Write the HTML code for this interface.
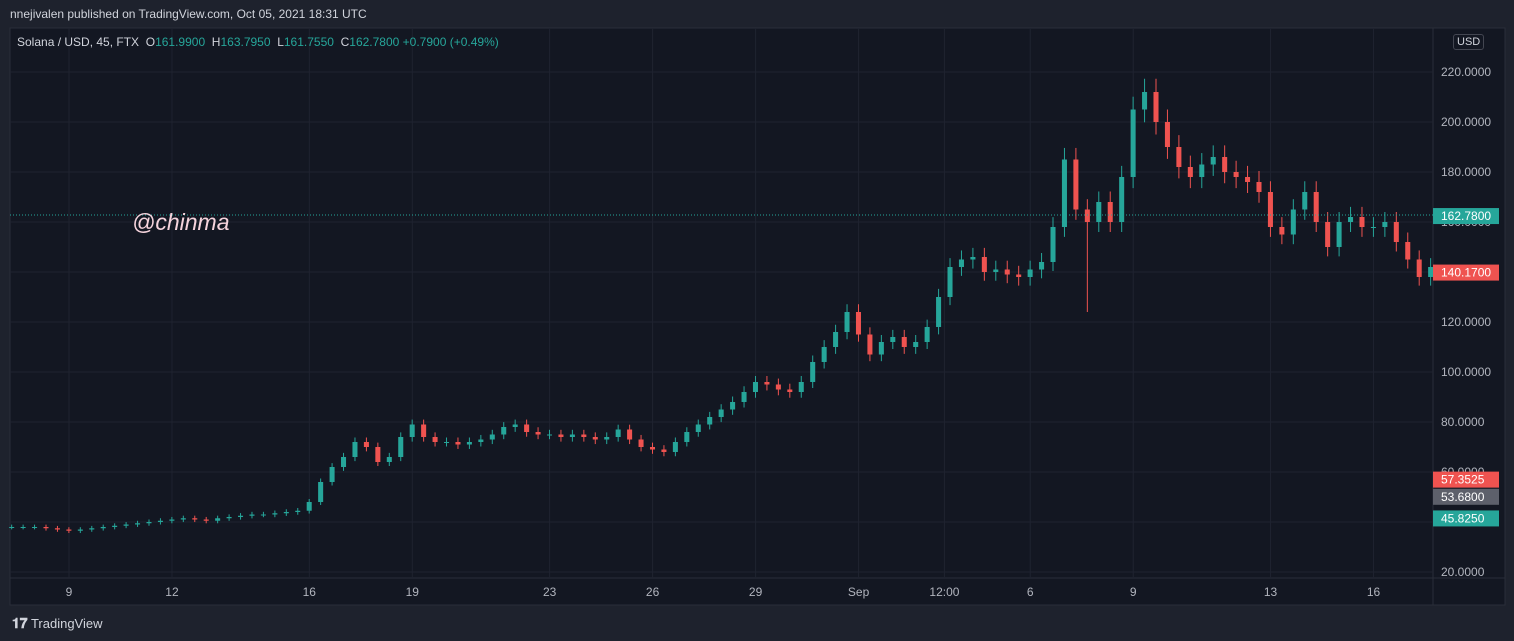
<!DOCTYPE html>
<html><head><meta charset="utf-8"><style>
body{margin:0;width:1514px;height:641px;background:#1e222d;font-family:"Liberation Sans",sans-serif;overflow:hidden;position:relative}
.t{position:absolute;white-space:nowrap}
</style></head><body>
<div class="t" style="left:10px;top:7px;font-size:12px;color:#d1d4dc">nnejivalen published on TradingView.com, Oct 05, 2021 18:31 UTC</div>
<svg id="c" width="1514" height="641" style="position:absolute;left:0;top:0"></svg>
<div class="t" style="left:17px;top:35px;font-size:12px;color:#d1d4dc">Solana / USD, 45, FTX&nbsp; <span style="color:#d1d4dc">O</span><span style="color:#26a69a">161.9900</span>&nbsp; H<span style="color:#26a69a">163.7950</span>&nbsp; L<span style="color:#26a69a">161.7550</span>&nbsp; C<span style="color:#26a69a">162.7800 +0.7900 (+0.49%)</span></div>
<div class="t" style="left:1453px;top:34px;font-size:11px;color:#d1d4dc;border:1px solid #434651;border-radius:3px;padding:1px 3px">USD</div>
<div class="t" style="left:132px;top:209px;font-size:23px;font-style:italic;color:#f5d3dc">@chinma</div>
<div class="t" style="left:12px;top:615px;font-size:13px;color:#d1d4dc"><b style="font-size:14px">𝟏𝟕</b> TradingView</div>
<script>
const closes=[38,38,38,37.5,37,36.5,37,37.5,38,38.5,39,39.5,40,40.5,41,41.5,41,40.5,41.5,42,42.5,43,43,43.5,44,44.5,48,56,62,66,72,70,64,66,74,79,74,72,72,71,72,73,75,78,79,76,75,75,74,75,74,73,74,77,73,70,69,68,72,76,79,82,85,88,92,96,95,93,92,96,104,110,116,124,115,107,112,114,110,112,118,130,142,145,146,140,141,139,138,141,144,158,185,165,160,168,160,178,205,212,200,190,182,178,183,186,180,178,176,172,158,155,165,172,160,150,160,162,158,158,160,152,145,138,142];
const spikeIdx=[94];
const spikeLow=[124];
const yTicks=[220,200,180,160,140,120,100,80,60,40,20];
const xLabels=["9","12","16","19","23","26","29","Sep","12:00","6","9","13","16"];
const xDays=[9,12,16,19,23,26,29,32,34.5,37,40,44,47];
const badgeValues=[162.78,140.17,57.3525,53.68,45.825];
const badgeLabels=["162.7800","140.1700","57.3525","53.6800","45.8250"];
const badgeColors=["#26a69a","#ef5350","#ef5350","#5d606b","#26a69a"];
const badgeShift=[1,1,1,9,11];
const NS="http://www.w3.org/2000/svg",svg=document.getElementById('c');
const L=10,R=1433,T=28,B=578;
const y=v=>72+(220-v)*2.5;
const x=d=>69+(d-9)*34.33;
function el(tag,a,p){const e=document.createElementNS(NS,tag);for(const k in a)e.setAttribute(k,a[k]);(p||svg).appendChild(e);return e;}
const bg=el('rect',{x:L,y:T,width:1495,height:577,fill:'#131722',stroke:'#2a2e39'});


el('line',{x1:R,y1:T,x2:R,y2:605,stroke:'#2a2e39'});
el('line',{x1:L,y1:B,x2:1505,y2:B,stroke:'#2a2e39'});
yTicks.forEach(v=>{
  const g=el('line',{x1:L,y1:y(v),x2:R,y2:y(v),stroke:'#1f2330'});
  
  
  const t=el('text',{x:1441,y:y(v)+4,fill:'#b2b5be','font-size':12,'font-family':'Liberation Sans'});
  t.textContent=v.toFixed(4);
  
  
});
xLabels.forEach((s,i)=>{
  const xx=x(xDays[i]);
  const g=el('line',{x1:xx,y1:T,x2:xx,y2:B,stroke:'#1f2330'});
  
  
  const t=el('text',{x:xx,y:596,fill:'#b2b5be','font-size':12,'text-anchor':'middle','font-family':'Liberation Sans'});
  t.textContent=s;
  
  
});
const step=1/3,w=34.33*step;
closes.forEach((c,i)=>{
  const o=i?closes[i-1]:c;
  const d=7.33+i*step;
  const cx=x(d);
  const up=c>=o,col=up?'#26a69a':'#ef5350';
  const hi=Math.max(o,c)*1.025,k=spikeIdx.indexOf(i),lo=k>=0?spikeLow[k]:Math.min(o,c)*0.975;
  const g=el('g',{});
  
  
  el('line',{x1:cx,y1:y(hi),x2:cx,y2:y(lo),stroke:col,'stroke-width':1},g);
  el('rect',{x:cx-w*0.22,y:y(Math.max(o,c)),width:w*0.44,height:Math.max(1,Math.abs(y(o)-y(c))),fill:col},g);
});
const pl=el('line',{x1:L,y1:y(162.78),x2:R,y2:y(162.78),stroke:'#26a69a','stroke-dasharray':'1 2'});


badgeValues.forEach((v,i)=>{
  const g=el('g',{});
  
  
  const yy=y(v)+badgeShift[i];
  el('rect',{x:R,y:yy-8,width:66,height:16,fill:badgeColors[i]},g);
  const t=el('text',{x:1441,y:yy+4,fill:'#fff','font-size':12,'font-family':'Liberation Sans'},g);
  t.textContent=badgeLabels[i];
});
</script>
</body></html>
